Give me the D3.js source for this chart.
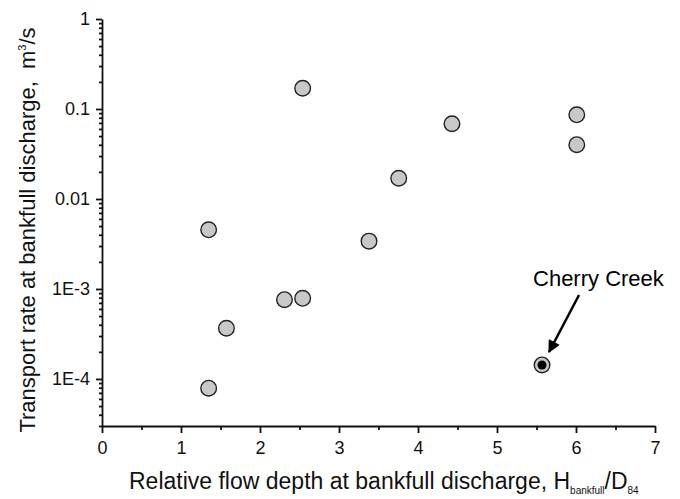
<!DOCTYPE html>
<html>
<head>
<meta charset="utf-8">
<script src="https://cdn.jsdelivr.net/npm/d3@7"></script>
<style>
body { margin: 0; background: #fff; }
svg { font-family: "Liberation Sans", Arial, sans-serif; }
.axis path, .axis line { stroke: #111; stroke-width: 1.8; }
.axis text { fill: #111; font-size: 18px; }
</style>
</head>
<body>
<svg id="chart" width="680" height="499"></svg>
<script>
// flow depth H/D84 and bankfull transport rate (m3/s)
var depth = [2.54, 1.35, 1.575, 1.35, 2.31, 2.54, 3.38, 3.756, 4.43, 6.01, 6.01];
var rate = [0.17, 0.00454, 0.000366, 0.000079, 0.00076, 0.000787, 0.0034, 0.017, 0.0685, 0.0862, 0.0401];
var cherry = [5.57, 0.000143];
var xTicks = [0, 1, 2, 3, 4, 5, 6, 7];
var yTicks = [1e-4, 1e-3, 0.01, 0.1, 1];
var yLabels = ["1E-4", "1E-3", "0.01", "0.1", "1"];

var svg = d3.select("#chart");
var x = d3.scaleLinear().domain([0, 7]).range([102, 655]);
var y = d3.scaleLog().domain([3e-5, 1]).range([426, 19]);

// minor ticks
var xMinor = d3.range(0.5, 7, 1);
var yMinor = [];
[1e-5, 1e-4, 1e-3, 0.01, 0.1].forEach(function(d) {
	for (var k = 2; k <= 9; k++) {
		var v = d * k;
		if (v >= 3e-5 && v < 1) yMinor.push(v);
	}
});

svg.append("g")
	.attr("class", "axis")
	.attr("transform", "translate(0,426)")
	.call(d3.axisBottom(x).tickValues(xMinor).tickSize(4).tickFormat(""))
	.select(".domain").remove();
svg.append("g")
	.attr("class", "axis")
	.attr("transform", "translate(102,0)")
	.call(d3.axisLeft(y).tickValues(yMinor).tickSize(3).tickFormat(""))
	.select(".domain").remove();

svg.append("g")
	.attr("class", "axis")
	.attr("transform", "translate(0,426)")
	.call(d3.axisBottom(x).tickValues(xTicks).tickSize(7).tickSizeOuter(0).tickPadding(8).tickFormat(d3.format("d")));
svg.append("g")
	.attr("class", "axis")
	.attr("transform", "translate(102,0)")
	.call(d3.axisLeft(y).tickValues(yTicks).tickSize(6).tickSizeOuter(0).tickPadding(6)
		.tickFormat(function(d, i) { return yLabels[i]; }));

// axis titles
var xt = svg.append("text")
	.attr("x", 129).attr("y", 489)
	.attr("font-size", 23).attr("fill", "#111");
xt.append("tspan").text("Relative flow depth at bankfull discharge, H");
xt.append("tspan").attr("font-size", 10).attr("dy", 5).text("bankfull");
xt.append("tspan").attr("dy", -5).text("/D");
xt.append("tspan").attr("font-size", 10).attr("dy", 5).text("84");

var yt = svg.append("text")
	.attr("transform", "translate(35,230) rotate(-90)")
	.attr("text-anchor", "middle")
	.attr("font-size", 22).attr("fill", "#111");
yt.append("tspan").text("Transport rate at bankfull discharge,\u00a0 m");
yt.append("tspan").attr("font-size", 11).attr("dy", -9).text("3");
yt.append("tspan").attr("dy", 9).text("/s");

// points
svg.append("g").selectAll("circle")
	.data(depth)
	.enter().append("circle")
	.attr("cx", function(d) { return x(d); })
	.attr("cy", function(d, i) { return y(rate[i]); })
	.attr("r", 7.8)
	.attr("fill", "#c8c8c8")
	.attr("stroke", "#222")
	.attr("stroke-width", 1.4);

svg.append("circle")
	.attr("cx", x(cherry[0])).attr("cy", y(cherry[1]))
	.attr("r", 7.8)
	.attr("fill", "#c8c8c8")
	.attr("stroke", "#222")
	.attr("stroke-width", 1.4);
svg.append("circle")
	.attr("cx", x(cherry[0])).attr("cy", y(cherry[1]))
	.attr("r", 4.5)
	.attr("fill", "#000");

// annotation arrow
svg.append("defs").append("marker")
	.attr("id", "head")
	.attr("viewBox", "0 0 10 10")
	.attr("refX", 9).attr("refY", 5)
	.attr("markerWidth", 5.5).attr("markerHeight", 5)
	.attr("markerUnits", "strokeWidth")
	.attr("orient", "auto")
	.append("path")
	.attr("d", "M0,0L10,5L0,10z")
	.attr("fill", "#000");

svg.append("line")
	.attr("x1", x(cherry[0]) + 37).attr("y1", y(cherry[1]) - 70)
	.attr("x2", x(cherry[0]) + 7).attr("y2", y(cherry[1]) - 13)
	.attr("stroke", "#000")
	.attr("stroke-width", 2.5)
	.attr("marker-end", "url(#head)");

svg.append("text")
	.attr("x", x(cherry[0]) - 9).attr("y", y(cherry[1]) - 79)
	.attr("font-size", 22).attr("fill", "#000")
	.text("Cherry Creek");
</script>
</body>
</html>
